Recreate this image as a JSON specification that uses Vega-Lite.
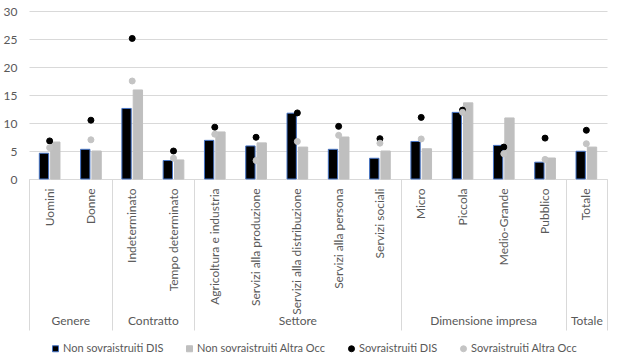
{
  "$schema": "https://vega.github.io/schema/vega-lite/v6.json",
  "width": 578,
  "height": 168,
  "autosize": "none",
  "padding": {"left": 29, "top": 11, "right": 13, "bottom": 183},
  "config": {
    "font": "Lato",
    "view": {"stroke": null},
    "axis": {"labelFont": "Lato", "labelFontSize": 12, "labelColor": "#595959"},
    "legend": {"labelFont": "Lato", "labelFontSize": 11, "labelColor": "#595959"}
  },
  "data": {
    "values": [
      {"cat": "Uomini", "Non sovraistruiti DIS": 4.6, "Non sovraistruiti Altra Occ": 6.6, "Sovraistruiti DIS": 6.8, "Sovraistruiti Altra Occ": 5.6},
      {"cat": "Donne", "Non sovraistruiti DIS": 5.3, "Non sovraistruiti Altra Occ": 5.0, "Sovraistruiti DIS": 10.5, "Sovraistruiti Altra Occ": 7.0},
      {"cat": "Indeterminato", "Non sovraistruiti DIS": 12.6, "Non sovraistruiti Altra Occ": 15.9, "Sovraistruiti DIS": 25.1, "Sovraistruiti Altra Occ": 17.5},
      {"cat": "Tempo determinato", "Non sovraistruiti DIS": 3.3, "Non sovraistruiti Altra Occ": 3.4, "Sovraistruiti DIS": 5.0, "Sovraistruiti Altra Occ": 3.7},
      {"cat": "Agricoltura e industria", "Non sovraistruiti DIS": 6.9, "Non sovraistruiti Altra Occ": 8.4, "Sovraistruiti DIS": 9.25, "Sovraistruiti Altra Occ": 8.0},
      {"cat": "Servizi alla produzione", "Non sovraistruiti DIS": 5.9, "Non sovraistruiti Altra Occ": 6.45, "Sovraistruiti DIS": 7.45, "Sovraistruiti Altra Occ": 3.3},
      {"cat": "Servizi alla distribuzione", "Non sovraistruiti DIS": 11.75, "Non sovraistruiti Altra Occ": 5.7, "Sovraistruiti DIS": 11.8, "Sovraistruiti Altra Occ": 6.7},
      {"cat": "Servizi alla persona", "Non sovraistruiti DIS": 5.3, "Non sovraistruiti Altra Occ": 7.5, "Sovraistruiti DIS": 9.4, "Sovraistruiti Altra Occ": 7.8},
      {"cat": "Servizi sociali", "Non sovraistruiti DIS": 3.7, "Non sovraistruiti Altra Occ": 5.0, "Sovraistruiti DIS": 7.2, "Sovraistruiti Altra Occ": 6.4},
      {"cat": "Micro", "Non sovraistruiti DIS": 6.7, "Non sovraistruiti Altra Occ": 5.4, "Sovraistruiti DIS": 11.0, "Sovraistruiti Altra Occ": 7.15},
      {"cat": "Piccola", "Non sovraistruiti DIS": 11.9, "Non sovraistruiti Altra Occ": 13.6, "Sovraistruiti DIS": 12.3, "Sovraistruiti Altra Occ": 11.9},
      {"cat": "Medio-Grande", "Non sovraistruiti DIS": 6.0, "Non sovraistruiti Altra Occ": 10.9, "Sovraistruiti DIS": 5.7, "Sovraistruiti Altra Occ": 4.5},
      {"cat": "Pubblico", "Non sovraistruiti DIS": 3.0, "Non sovraistruiti Altra Occ": 3.75, "Sovraistruiti DIS": 7.3, "Sovraistruiti Altra Occ": 3.5},
      {"cat": "Totale", "Non sovraistruiti DIS": 4.95, "Non sovraistruiti Altra Occ": 5.7, "Sovraistruiti DIS": 8.7, "Sovraistruiti Altra Occ": 6.3}
    ]
  },
  "transform": [
    {"fold": ["Non sovraistruiti DIS", "Non sovraistruiti Altra Occ", "Sovraistruiti DIS", "Sovraistruiti Altra Occ"], "as": ["serie", "valore"]}
  ],
  "encoding": {
    "y": {
      "field": "valore", "type": "quantitative",
      "scale": {"domain": [0, 30], "nice": false, "zero": true},
      "axis": {"title": null, "values": [0, 5, 10, 15, 20, 25, 30], "labelOverlap": false, "domain": false, "ticks": false, "grid": true, "gridColor": "#d9d9d9", "labelPadding": 12}
    }
  },
  "layer": [
    {
      "transform": [{"filter": {"field": "serie", "oneOf": ["Non sovraistruiti DIS", "Non sovraistruiti Altra Occ"]}}],
      "mark": {"type": "bar", "strokeWidth": 1},
      "encoding": {
        "x": {
          "field": "cat", "type": "nominal",
          "sort": ["Uomini", "Donne", "Indeterminato", "Tempo determinato", "Agricoltura e industria", "Servizi alla produzione", "Servizi alla distribuzione", "Servizi alla persona", "Servizi sociali", "Micro", "Piccola", "Medio-Grande", "Pubblico", "Totale"],
          "scale": {"paddingInner": 0, "paddingOuter": 0},
          "axis": {"title": null, "orient": "bottom", "labelAngle": -90, "ticks": false, "grid": false, "domainColor": "#d9d9d9", "labelPadding": 9, "labelOverlap": false}
        },
        "xOffset": {"field": "serie", "type": "nominal", "sort": ["Non sovraistruiti DIS", "Non sovraistruiti Altra Occ"], "scale": {"paddingInner": 0.177, "paddingOuter": 0.91}},
        "fill": {
          "field": "serie", "type": "nominal",
          "scale": {"domain": ["Non sovraistruiti DIS", "Non sovraistruiti Altra Occ", "Sovraistruiti DIS", "Sovraistruiti Altra Occ"], "range": ["#000000", "#bfbfbf", "#000000", "#c4c4c4"]},
          "legend": {"title": null, "orient": "none", "legendX": 21, "legendY": 332, "direction": "horizontal", "columns": 4, "symbolSize": 36, "columnPadding": 20, "labelOffset": 2, "symbolStrokeWidth": 1}
        },
        "stroke": {
          "field": "serie", "type": "nominal",
          "scale": {"domain": ["Non sovraistruiti DIS", "Non sovraistruiti Altra Occ", "Sovraistruiti DIS", "Sovraistruiti Altra Occ"], "range": ["#4472c4", "#bfbfbf", "#000000", "#c4c4c4"]},
          "legend": {"title": null, "orient": "none", "legendX": 21, "legendY": 332, "direction": "horizontal", "columns": 4, "symbolSize": 36, "columnPadding": 20, "labelOffset": 2, "symbolStrokeWidth": 1}
        }
      }
    },
    {
      "transform": [{"filter": {"field": "serie", "oneOf": ["Sovraistruiti DIS", "Sovraistruiti Altra Occ"]}}],
      "mark": {"type": "point", "filled": true, "opacity": 1, "size": 36, "strokeWidth": 1},
      "encoding": {
        "x": {
          "field": "cat", "type": "nominal",
          "sort": ["Uomini", "Donne", "Indeterminato", "Tempo determinato", "Agricoltura e industria", "Servizi alla produzione", "Servizi alla distribuzione", "Servizi alla persona", "Servizi sociali", "Micro", "Piccola", "Medio-Grande", "Pubblico", "Totale"],
          "axis": {
            "title": null, "orient": "bottom", "domain": false, "grid": false,
            "ticks": true, "tickBand": "extent", "tickSize": 151, "tickColor": "#d9d9d9", "tickWidth": 1,
            "tickOpacity": {"condition": {"test": "datum.extra || indexof(['Donne','Tempo determinato','Servizi sociali','Pubblico','Totale'], datum.value) >= 0", "value": 1}, "value": 0},
            "labelExpr": "datum.value == 'Donne' ? 'Genere' : datum.value == 'Tempo determinato' ? 'Contratto' : datum.value == 'Servizi alla distribuzione' ? 'Settore' : datum.value == 'Medio-Grande' ? 'Dimensione impresa' : datum.value == 'Totale' ? 'Totale' : ''",
            "labelAngle": 0, "labelAlign": "center", "labelBaseline": "middle", "labelPadding": -10,
            "labelOffset": {"condition": {"test": "indexof(['Donne','Tempo determinato','Medio-Grande'], datum.value) >= 0", "value": -20.65}, "value": 0},
            "labelOverlap": false, "labelFlush": false
          }
        },
        "fill": {"field": "serie", "type": "nominal"},
        "stroke": {"field": "serie", "type": "nominal"},
        "shape": {
          "field": "serie", "type": "nominal",
          "scale": {"domain": ["Non sovraistruiti DIS", "Non sovraistruiti Altra Occ", "Sovraistruiti DIS", "Sovraistruiti Altra Occ"], "range": ["square", "square", "circle", "circle"]},
          "legend": {"title": null, "orient": "none", "legendX": 21, "legendY": 332, "direction": "horizontal", "columns": 4, "symbolSize": 36, "columnPadding": 20, "labelOffset": 2, "symbolStrokeWidth": 1}
        }
      }
    }
  ],
  "resolve": {"axis": {"x": "independent"}}
}
